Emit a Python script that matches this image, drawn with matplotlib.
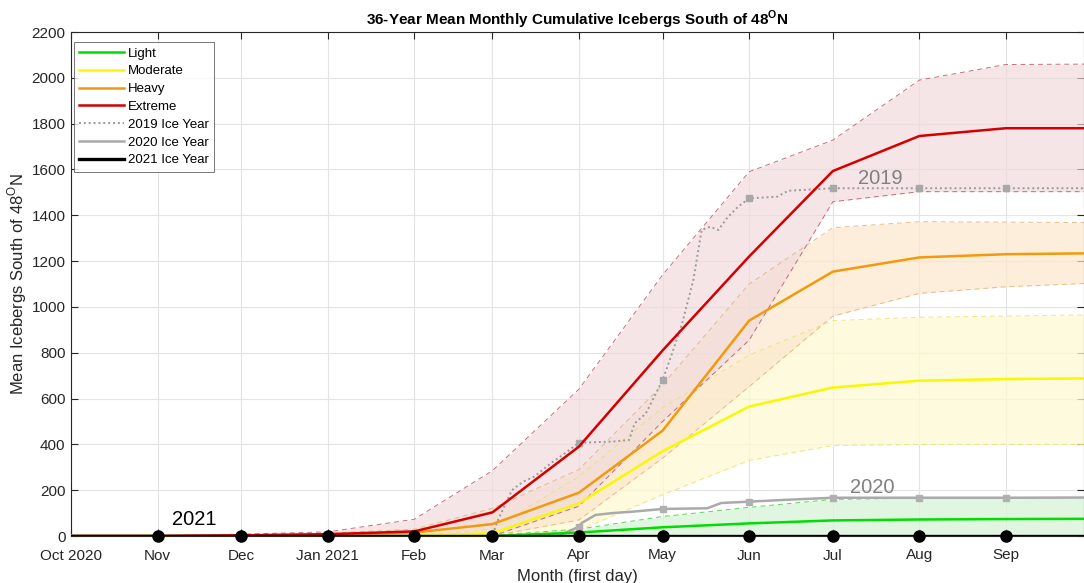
import matplotlib
matplotlib.use("Agg")
import matplotlib.pyplot as plt
import matplotlib.dates as mdates
import numpy as np
from datetime import datetime

plt.rcParams['font.family'] = ['Liberation Sans', 'DejaVu Sans']
plt.rcParams['mathtext.fontset'] = 'custom'
plt.rcParams['mathtext.rm'] = 'Liberation Sans'
plt.rcParams['mathtext.bf'] = 'Liberation Sans:bold'

# ---------------- data ----------------
month_dates = ['2020-10-01', '2020-11-01', '2020-12-01', '2021-01-01', '2021-02-01',
               '2021-03-01', '2021-04-01', '2021-05-01', '2021-06-01', '2021-07-01',
               '2021-08-01', '2021-09-01', '2021-10-01']
tick_labels = ['Oct 2020', 'Nov', 'Dec', 'Jan 2021', 'Feb', 'Mar', 'Apr', 'May',
               'Jun', 'Jul', 'Aug', 'Sep']

light_mean = [0, 0, 0, 0, 0, 0, 15, 38, 55, 68, 72, 74, 75]
light_upper = [0, 0, 0, 0, 0, 3, 30, 85, 125, 160, 165, 166, 167]
light_lower = [0, 0, 0, 0, 0, 0, 0, 0, 0, 0, 0, 0, 0]

moderate_mean = [0, 0, 0, 0, 1, 12, 142, 370, 565, 648, 678, 685, 688]
moderate_upper = [0, 0, 0, 0, 3, 30, 260, 560, 790, 940, 955, 960, 965]
moderate_lower = [0, 0, 0, 0, 0, 0, 25, 180, 330, 395, 400, 400, 400]

heavy_mean = [0, 0, 2, 5, 15, 52, 189, 460, 940, 1154, 1216, 1230, 1234]
heavy_upper = [0, 0, 5, 12, 30, 121, 290, 660, 1100, 1346, 1372, 1370, 1368]
heavy_lower = [0, 0, 0, 0, 0, 0, 70, 340, 652, 960, 1059, 1088, 1103]

extreme_mean = [0, 0, 3, 8, 20, 103, 390, 810, 1220, 1593, 1746, 1780, 1780]
extreme_upper = [0, 3, 8, 18, 73, 285, 641, 1140, 1590, 1728, 1990, 2058, 2060]
extreme_lower = [0, 0, 0, 0, 0, 0, 130, 500, 855, 1459, 1503, 1503, 1503]

y2019_dates = ['2020-10-01', '2021-03-01', '2021-03-03', '2021-03-08', '2021-03-12',
               '2021-03-16', '2021-03-22', '2021-03-27', '2021-04-01', '2021-04-13',
               '2021-04-19', '2021-04-21', '2021-04-25', '2021-05-01', '2021-05-04',
               '2021-05-08', '2021-05-12', '2021-05-15', '2021-05-18', '2021-05-21',
               '2021-05-24', '2021-05-28', '2021-06-01', '2021-06-11', '2021-06-15',
               '2021-07-01', '2021-08-01', '2021-09-01', '2021-10-01']
y2019_values = [0, 0, 70, 200, 237, 259, 318, 361, 407, 412, 419, 492, 535, 681, 783,
                928, 1117, 1336, 1350, 1336, 1387, 1437, 1474, 1481, 1507,
                1518, 1518, 1518, 1518]

y2020_dates = ['2020-10-01', '2021-03-01', '2021-03-25', '2021-03-28', '2021-04-01',
               '2021-04-02', '2021-04-07', '2021-04-13', '2021-04-20', '2021-05-01',
               '2021-05-17', '2021-05-22', '2021-06-01', '2021-06-18', '2021-07-01',
               '2021-08-01', '2021-09-01', '2021-10-01']
y2020_values = [0, 0, 0, 19, 40, 57, 92, 100, 106, 118, 121, 144, 150, 160, 167,
                167, 167, 168]

y2021_values = [0, 0, 0, 0, 0, 0, 0, 0, 0, 0, 0, 0, 0]

# ---------------- plot ----------------
def todt(lst):
    return [datetime.strptime(s, '%Y-%m-%d') for s in lst]

mx = todt(month_dates)
fig = plt.figure(figsize=(10.84, 5.83), dpi=100)
ax = fig.add_axes([71 / 1084, 1 - 536 / 583, (1084 - 71) / 1084, (536 - 32) / 583])

series = [
    ('Light', light_mean, light_upper, light_lower, '#00dd00', '#2ecc2e', '#d8f3d8'),
    ('Moderate', moderate_mean, moderate_upper, moderate_lower, '#f8f800', '#e8e070', '#fdf9d2'),
    ('Heavy', heavy_mean, heavy_upper, heavy_lower, '#f29a0c', '#e0b070', '#fbe7cc'),
    ('Extreme', extreme_mean, extreme_upper, extreme_lower, '#d40000', '#b05060', '#f0d8da'),
]

band_alpha = {'Light': 0.75, 'Moderate': 0.75, 'Heavy': 0.7, 'Extreme': 0.65}
for name, m, up, lo, c, ec, fc in series:
    ax.fill_between(mx, lo, up, color=fc, alpha=band_alpha[name], lw=0, zorder=1)
for name, m, up, lo, c, ec, fc in series:
    ax.plot(mx, up, ls=(0, (5, 4)), color=ec, lw=0.7, alpha=0.8, zorder=2)
    ax.plot(mx, lo, ls=(0, (5, 4)), color=ec, lw=0.7, alpha=0.8, zorder=2)

handles = []
for name, m, up, lo, c, ec, fc in series:
    h, = ax.plot(mx, m, color=c, lw=1.8, zorder=5, label=name)
    handles.append(h)

d19 = todt(y2019_dates)
h19, = ax.plot(d19, y2019_values, color='#9a9a9a', ls=(0, (1, 1.5)), lw=1.4, zorder=4,
               label='2019 Ice Year')
m19 = [(d, v) for d, v in zip(d19, y2019_values) if d.day == 1 and d.month in (4, 5, 6, 7, 8, 9)]
ax.plot([d for d, v in m19], [v for d, v in m19], ls='none', marker='s', ms=4.5,
        color='#a8a8a8', zorder=4)

d20 = todt(y2020_dates)
h20, = ax.plot(d20, y2020_values, color='#aaaaaa', lw=1.8, zorder=4, label='2020 Ice Year')
m20 = [(d, v) for d, v in zip(d20, y2020_values) if d.day == 1 and d.month in (4, 5, 6, 7, 8, 9)]
ax.plot([d for d, v in m20], [v for d, v in m20], ls='none', marker='s', ms=4.5,
        color='#b0b0b0', zorder=4)

h21, = ax.plot(mx, y2021_values, color='black', lw=2.4, zorder=6, label='2021 Ice Year')
ax.plot(mx[1:12], y2021_values[1:12], ls='none', marker='o', ms=8, color='black',
        zorder=7, clip_on=False)

handles += [h19, h20, h21]

ax.text(datetime(2020, 11, 14), 30, '2021', fontsize=14.5, color='black',
        ha='center', va='bottom', zorder=8)
ax.text(datetime(2021, 7, 18), 1520, '2019', fontsize=14.5, color='#808080',
        ha='center', va='bottom', zorder=8)
ax.text(datetime(2021, 7, 15), 170, '2020', fontsize=14.5, color='#808080',
        ha='center', va='bottom', zorder=8)

ax.set_xlim(datetime(2020, 10, 1), datetime(2021, 9, 29))
ax.set_ylim(0, 2200)
ax.set_xticks(mx[:12])
ax.set_xticklabels(tick_labels)
ax.set_yticks(np.arange(0, 2201, 200))
ax.grid(True, color='#e4e4e4', lw=0.8, zorder=0)
ax.set_axisbelow(True)
ax.tick_params(direction='in', length=5, width=0.8, colors='#262626', labelsize=11,
               top=True, right=True)
ax.tick_params(axis='x', pad=9)
ax.tick_params(axis='y', pad=4)
for sp in ax.spines.values():
    sp.set_color('#262626')
    sp.set_linewidth(0.8)

ax.set_title(r'36-Year Mean Monthly Cumulative Icebergs South of 48$^{\mathbf{O}}$N',
             fontsize=11, fontweight='bold', pad=5)
ax.set_ylabel(r'Mean Icebergs South of 48$^{\mathrm{O}}$N', fontsize=12, color='#262626',
              labelpad=2)
ax.set_xlabel('Month (first day)', fontsize=12, color='#262626', labelpad=5)

leg = ax.legend(handles=handles, loc='upper left', bbox_to_anchor=(0.0, 0.985),
                fontsize=9.5, frameon=True, fancybox=False, edgecolor='#555555',
                handlelength=3.4, handletextpad=0.3, labelspacing=0.42,
                borderpad=0.4, borderaxespad=0.2)
leg.get_frame().set_linewidth(0.7)
leg.set_zorder(10)

fig.savefig('out.png', dpi=100)
